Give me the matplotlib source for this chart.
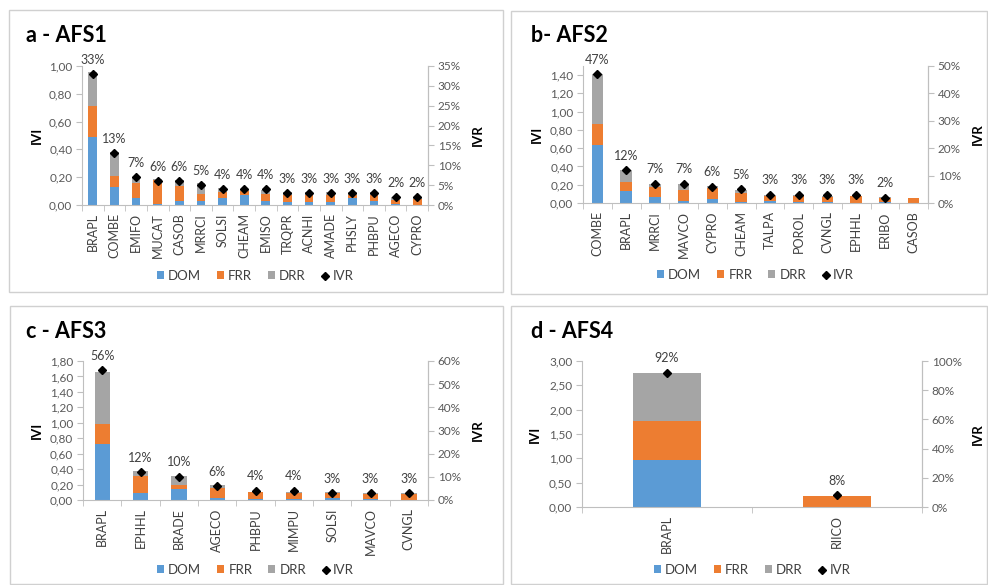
import matplotlib
matplotlib.use("Agg")
import matplotlib.pyplot as plt
import numpy as np
from matplotlib.patches import Patch, Rectangle
from matplotlib.lines import Line2D
from matplotlib.ticker import FixedLocator, FuncFormatter

plt.rcParams['font.family'] = ['Lato', 'DejaVu Sans']

# ---- data: species importance values per agroforestry system ----
afs1_species = ["BRAPL", "COMBE", "EMIFO", "MUCAT", "CASOB", "MRRCI", "SOLSI", "CHEAM",
                "EMISO", "TRQPR", "ACNHI", "AMADE", "PHSLY", "PHBPU", "AGECO", "CYPRO"]
afs1_dom = [0.49, 0.13, 0.05, 0.01, 0.03, 0.03, 0.05, 0.07, 0.03, 0.02, 0.02, 0.02, 0.05, 0.03, 0.005, 0.0]
afs1_frr = [0.22, 0.08, 0.11, 0.17, 0.11, 0.05, 0.04, 0.03, 0.05, 0.05, 0.05, 0.05, 0.02, 0.04, 0.03, 0.04]
afs1_drr = [0.25, 0.17, 0.04, 0.01, 0.04, 0.08, 0.03, 0.01, 0.03, 0.02, 0.02, 0.02, 0.02, 0.02, 0.025, 0.02]
afs1_ivr = [0.33, 0.13, 0.07, 0.06, 0.06, 0.05, 0.04, 0.04, 0.04, 0.03, 0.03, 0.03, 0.03, 0.03, 0.02, 0.02]

afs2_species = ["COMBE", "BRAPL", "MRRCI", "MAVCO", "CYPRO", "CHEAM", "TALPA", "POROL",
                "CVNGL", "EPHHL", "ERIBO", "CASOB"]
afs2_dom = [0.64, 0.13, 0.07, 0.02, 0.045, 0.01, 0.02, 0.01, 0.01, 0.005, 0.01, 0.0]
afs2_frr = [0.22, 0.10, 0.11, 0.125, 0.12, 0.10, 0.06, 0.07, 0.06, 0.07, 0.05, 0.05]
afs2_drr = [0.55, 0.13, 0.03, 0.065, 0.025, 0.035, 0.01, 0.01, 0.01, 0.005, 0.01, 0.0]
afs2_ivr = [0.47, 0.12, 0.07, 0.07, 0.06, 0.05, 0.03, 0.03, 0.03, 0.03, 0.02, np.nan]

afs3_species = ["BRAPL", "EPHHL", "BRADE", "AGECO", "PHBPU", "MIMPU", "SOLSI", "MAVCO", "CVNGL"]
afs3_dom = [0.72, 0.09, 0.14, 0.02, 0.01, 0.01, 0.02, 0.01, 0.0]
afs3_frr = [0.27, 0.22, 0.055, 0.14, 0.09, 0.08, 0.07, 0.07, 0.08]
afs3_drr = [0.67, 0.06, 0.115, 0.03, 0.01, 0.02, 0.01, 0.01, 0.01]
afs3_ivr = [0.56, 0.12, 0.10, 0.06, 0.04, 0.04, 0.03, 0.03, 0.03]

afs4_species = ["BRAPL", "RIICO"]
afs4_dom = [0.96, 0.0]
afs4_frr = [0.80, 0.22]
afs4_drr = [0.99, 0.0]
afs4_ivr = [0.92, 0.08]

titles = ["a - AFS1", "b- AFS2", "c - AFS3", "d - AFS4"]

# ---- styling ----
W, H = 988, 585
C_DOM, C_FRR, C_DRR = "#5B9BD5", "#ED7D31", "#A5A5A5"
AXIS_C = "#BFBFBF"
TXT_C = "#595959"

fig = plt.figure(figsize=(W / 100, H / 100), dpi=100)


def px_box(l, t, r, b):
    return [l / W, 1 - b / H, (r - l) / W, (b - t) / H]


def comma_fmt(v, _):
    return f"{v:.2f}".replace(".", ",")


def pct_fmt(v, _):
    return f"{v * 100:.0f}%"


# panel frames
for (l, t, r, b) in [(9, 10, 503, 292), (511, 11, 987, 294), (10, 306, 503, 584), (511, 306, 987, 584)]:
    fig.patches.append(Rectangle((l / W, 1 - b / H), (r - l) / W, (b - t) / H,
                                 transform=fig.transFigure, fill=False,
                                 edgecolor="#D0D0D0", linewidth=1.0))

panels = [
    dict(species=afs1_species, dom=afs1_dom, frr=afs1_frr, drr=afs1_drr, ivr=afs1_ivr,
         box=(82, 66, 428, 205), ymax=1.0, ystep=0.2, rmax=0.35, rstep=0.05,
         title_xy=(26, 42), legend_y=276, ivi_x=37, ivr_x=478),
    dict(species=afs2_species, dom=afs2_dom, frr=afs2_frr, drr=afs2_drr, ivr=afs2_ivr,
         box=(583, 66, 928, 203), ymax=1.5, ystep=0.2, rmax=0.5, rstep=0.1,
         title_xy=(531, 42), legend_y=275, ivi_x=537, ivr_x=978),
    dict(species=afs3_species, dom=afs3_dom, frr=afs3_frr, drr=afs3_drr, ivr=afs3_ivr,
         box=(83, 361, 428, 500), ymax=1.8, ystep=0.2, rmax=0.6, rstep=0.1,
         title_xy=(26, 338), legend_y=570, ivi_x=37, ivr_x=478),
    dict(species=afs4_species, dom=afs4_dom, frr=afs4_frr, drr=afs4_drr, ivr=afs4_ivr,
         box=(582, 361, 922, 507), ymax=3.0, ystep=0.5, rmax=1.0, rstep=0.2,
         title_xy=(531, 338), legend_y=570, ivi_x=535, ivr_x=978),
]

for title, p in zip(titles, panels):
    ax = fig.add_axes(px_box(*p["box"]))
    n = len(p["species"])
    x = np.arange(n)
    dom = np.array(p["dom"])
    frr = np.array(p["frr"])
    drr = np.array(p["drr"])
    bw = 0.4
    ax.bar(x, dom, bw, color=C_DOM, zorder=2)
    ax.bar(x, frr, bw, bottom=dom, color=C_FRR, zorder=2)
    ax.bar(x, drr, bw, bottom=dom + frr, color=C_DRR, zorder=2)

    ax.set_xlim(-0.5, n - 0.5)
    ax.set_ylim(0, p["ymax"])
    yt = np.arange(0, p["ymax"] + 1e-9, p["ystep"])
    yt = yt[yt <= p["ymax"] + 1e-9]
    ax.yaxis.set_major_locator(FixedLocator(yt))
    ax.yaxis.set_major_formatter(FuncFormatter(comma_fmt))
    ax.set_xticks(x)
    ax.set_xticklabels(p["species"], rotation=90, fontsize=9, color="#404040")
    ax.set_xticks(np.arange(-0.5, n, 1.0), minor=True)
    ax.tick_params(axis="x", which="major", length=0, pad=6)
    ax.tick_params(axis="x", which="minor", length=4, color=AXIS_C)
    ax.tick_params(axis="y", length=4, color=AXIS_C, labelsize=8.5, labelcolor=TXT_C, pad=3)
    for s in ["top"]:
        ax.spines[s].set_visible(False)
    for s in ["left", "bottom", "right"]:
        ax.spines[s].set_color(AXIS_C)
        ax.spines[s].set_linewidth(0.8)
    ax.set_facecolor("none")

    ax2 = ax.twinx()
    ax2.set_ylim(0, p["rmax"])
    rt = np.arange(0, p["rmax"] + 1e-9, p["rstep"])
    ax2.yaxis.set_major_locator(FixedLocator(rt))
    ax2.yaxis.set_major_formatter(FuncFormatter(pct_fmt))
    ax2.tick_params(axis="y", length=4, color=AXIS_C, labelsize=8.5, labelcolor=TXT_C, pad=3)
    for s in ["top", "left", "bottom"]:
        ax2.spines[s].set_visible(False)
    ax2.spines["right"].set_color(AXIS_C)
    ax2.spines["right"].set_linewidth(0.8)

    ivr = np.array(p["ivr"], dtype=float)
    ax2.plot(x, ivr, linestyle="none", marker="D", markersize=4.5, color="black", zorder=4)
    for xi, v in zip(x, ivr):
        if np.isnan(v):
            continue
        ax2.annotate(f"{v * 100:.0f}%", (xi, v), xytext=(0, 6), textcoords="offset points",
                     ha="center", va="bottom", fontsize=9, color="#404040")

    # titles and axis names
    tx, ty = p["title_xy"]
    fig.text(tx / W, 1 - ty / H, title, fontsize=15.5, fontweight="bold", color="black",
             ha="left", va="baseline")
    ymid = 1 - ((p["box"][1] + p["box"][3]) / 2) / H
    fig.text(p["ivi_x"] / W, ymid, "IVI", rotation=90, fontsize=9.5, fontweight="bold",
             ha="center", va="center", color="black")
    fig.text(p["ivr_x"] / W, ymid, "IVR", rotation=90, fontsize=9.5, fontweight="bold",
             ha="center", va="center", color="black")

    handles = [Patch(facecolor=C_DOM), Patch(facecolor=C_FRR), Patch(facecolor=C_DRR),
               Line2D([], [], linestyle="none", marker="D", markersize=4, color="black")]
    cx = ((p["box"][0] + p["box"][2]) / 2) / W
    fig.legend(handles, ["DOM", "FRR", "DRR", "IVR"], loc="center",
               bbox_to_anchor=(cx, 1 - p["legend_y"] / H), ncol=4, frameon=False,
               fontsize=9.5, handlelength=0.55, handleheight=0.55, handletextpad=0.3,
               columnspacing=1.2, labelcolor="#404040")

fig.savefig("out.png", dpi=100, facecolor="white")
